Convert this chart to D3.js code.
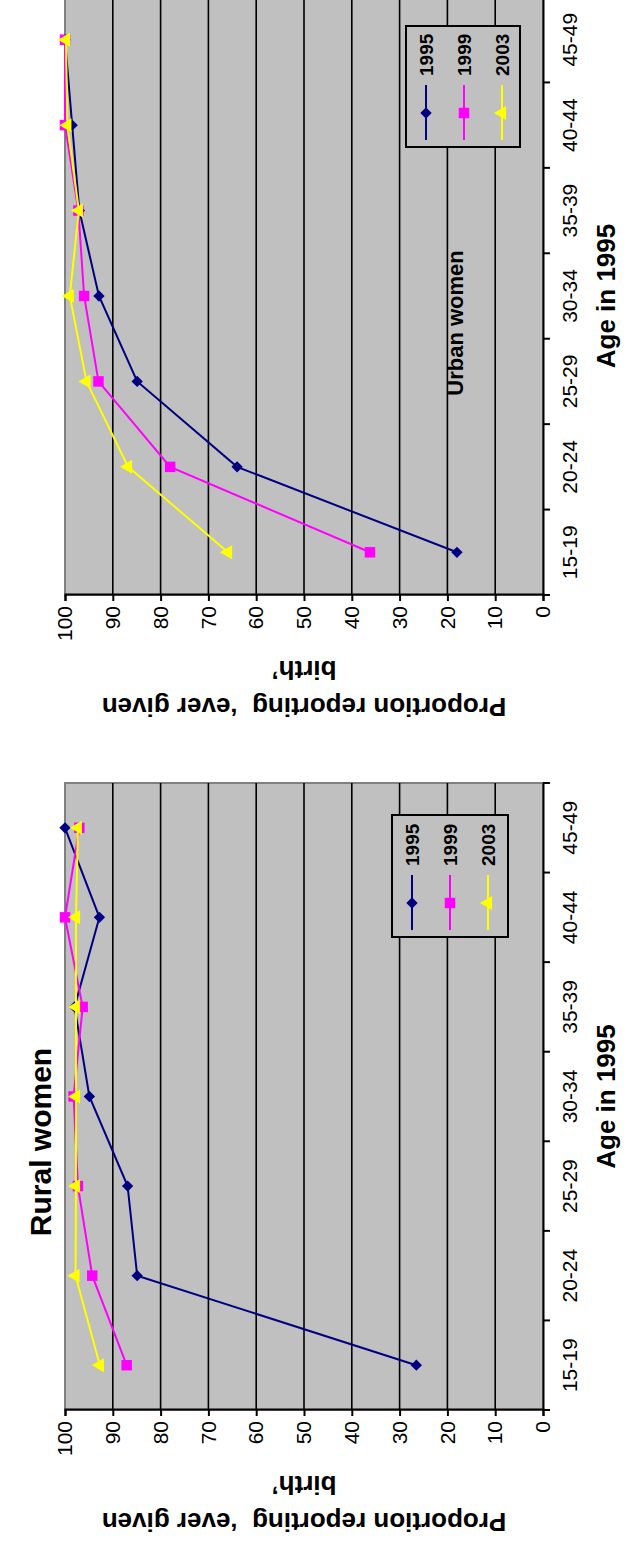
<!DOCTYPE html>
<html>
<head>
<meta charset="utf-8">
<script src="https://cdn.jsdelivr.net/npm/d3@7"></script>
<style>
  body { margin: 0; background: #fff; }
  svg { display: block; }
  text { font-family: Arial, "Liberation Sans", sans-serif; fill: #000; }
</style>
</head>
<body>
<svg id="chart" width="634" height="1543"></svg>
<script>
var categories = ["15-19", "20-24", "25-29", "30-34", "35-39", "40-44", "45-49"];
var years = ["1995", "1999", "2003"];
var yTicks = [0, 10, 20, 30, 40, 50, 60, 70, 80, 90, 100];

var rural1995 = [26.5, 84.9, 86.9, 94.9, 98.0, 92.8, 100];
var rural1999 = [87.1, 94.3, 97.3, 98.2, 96.3, 100, 97.0];
var rural2003 = [92.7, 97.8, 97.7, 97.7, 97.7, 97.7, 97.3];

var urban1995 = [18.0, 64.0, 84.9, 92.9, 97.0, 98.5, 100];
var urban1999 = [36.2, 78.0, 93.0, 96.0, 97.2, 100, 100];
var urban2003 = [65.9, 86.8, 95.5, 99.0, 97.1, 99.5, 99.8];

var colors = ["#000080", "#ff00ff", "#ffff00"];
var shapes = ["diamond", "square", "triangle"];

var svg = d3.select("#chart");

function marker(sel, shape, color) {
    if (shape == "diamond") {
        sel.append("path")
            .attr("d", d3.symbol(d3.symbolSquare, 64)())
            .attr("transform", "rotate(45)")
            .attr("fill", color);
    } else if (shape == "square") {
        sel.append("path")
            .attr("d", d3.symbol(d3.symbolSquare, 110)())
            .attr("fill", color);
    } else {
        sel.append("path")
            .attr("d", d3.symbol(d3.symbolTriangle, 85)())
            .attr("fill", color);
    }
}

// every panel is drawn as a landscape chart, then turned a quarter to the left
function drawPanel(p) {
    var w = p.bottom - p.top;
    var g = svg.append("g")
        .attr("transform", "translate(0," + p.bottom + ") rotate(-90)");

    var x = d3.scaleBand().domain(categories).range([0, w]);
    var y = d3.scaleLinear().domain([0, 100]).range([543, 65]);
    var cx = function(c) { return x(c) + x.bandwidth() / 2; };

    g.append("rect")
        .attr("x", 0).attr("y", y(100))
        .attr("width", w).attr("height", y(0) - y(100))
        .attr("fill", "#c0c0c0")
        .attr("stroke", "#808080")
        .attr("stroke-width", 2);

    g.selectAll(".grid").data(yTicks.filter(function(d) { return d > 0 && d < 100; }))
        .enter().append("line")
        .attr("x1", 0).attr("x2", w)
        .attr("y1", function(d) { return y(d); })
        .attr("y2", function(d) { return y(d); })
        .attr("stroke", "#000")
        .attr("stroke-width", 1.6);

    // value axis
    var yAxis = g.append("g")
        .call(d3.axisLeft(y).tickValues(yTicks).tickSize(6).tickPadding(5));
    yAxis.select(".domain").attr("stroke", "#000").attr("stroke-width", 2);
    yAxis.selectAll(".tick line").attr("stroke-width", 2);
    yAxis.selectAll("text").style("font-size", "21px");

    // category axis
    var xAxis = g.append("g")
        .attr("transform", "translate(0," + y(0) + ")")
        .call(d3.axisBottom(x).tickSize(0).tickPadding(19));
    xAxis.select(".domain").attr("stroke", "#000").attr("stroke-width", 2);
    xAxis.selectAll("text").style("font-size", "21px");
    xAxis.selectAll(".edge").data(categories.map(function(c) { return x(c); }).concat([w]))
        .enter().append("line")
        .attr("x1", function(d) { return d; })
        .attr("x2", function(d) { return d; })
        .attr("y1", 0).attr("y2", 7)
        .attr("stroke", "#000").attr("stroke-width", 2);

    // series
    p.series.forEach(function(vals, i) {
        var line = d3.line()
            .x(function(d, j) { return cx(categories[j]); })
            .y(function(d) { return y(d); });
        g.append("path")
            .datum(vals)
            .attr("d", line)
            .attr("fill", "none")
            .attr("stroke", colors[i])
            .attr("stroke-width", 2);
        g.selectAll(".m" + i).data(vals)
            .enter().append("g")
            .attr("transform", function(d, j) {
                return "translate(" + cx(categories[j]) + "," + y(d) + ")";
            })
            .each(function() { marker(d3.select(this), shapes[i], colors[i]); });
    });

    // legend
    var lg = g.append("g").attr("transform", "translate(" + p.legend[0] + "," + p.legend[1] + ")");
    lg.append("rect")
        .attr("width", p.legend[2]).attr("height", p.legend[3])
        .attr("fill", "#c0c0c0").attr("stroke", "#000").attr("stroke-width", 2);
    years.forEach(function(yr, i) {
        var row = lg.append("g").attr("transform", "translate(0," + (20 + i * 38) + ")");
        row.append("line")
            .attr("x1", 7).attr("x2", 62)
            .attr("stroke", colors[i]).attr("stroke-width", 2);
        var m = row.append("g").attr("transform", "translate(34,0)");
        marker(m, shapes[i], colors[i]);
        row.append("text")
            .attr("x", 71)
            .attr("dy", "0.36em")
            .style("font-size", "19px")
            .style("font-weight", "bold")
            .text(yr);
    });

    // titles
    g.append("text")
        .attr("x", p.title[0]).attr("y", p.title[1])
        .attr("dy", "0.36em")
        .attr("text-anchor", "middle")
        .style("font-size", p.title[2] + "px")
        .style("font-weight", "bold")
        .text(p.name);

    g.append("text")
        .attr("x", w / 2).attr("y", 606)
        .attr("dy", "0.36em")
        .attr("text-anchor", "middle")
        .style("font-size", "26px")
        .style("font-weight", "bold")
        .text("Age in 1995");

    var yTitle = ["Proportion reporting  \u2018ever given", "birth\u2019"];
    yTitle.forEach(function(t, i) {
        g.append("text")
            .attr("transform", "translate(" + (i == 0 ? -112 : -75) + "," + (y(0) + y(100)) / 2 + ") rotate(-90)")
            .attr("dy", "0.36em")
            .attr("text-anchor", "middle")
            .style("font-size", "26px")
            .style("font-weight", "bold")
            .style("white-space", "pre")
            .text(t);
    });
}

drawPanel({
    name: "Urban women",
    top: -3, bottom: 595,
    series: [urban1995, urban1999, urban2003],
    legend: [448, 406, 121, 114],
    title: [272, 455, 22]
});

drawPanel({
    name: "Rural women",
    top: 783, bottom: 1410,
    series: [rural1995, rural1999, rural2003],
    legend: [473, 392, 122, 116],
    title: [268, 40, 30]
});
</script>
</body>
</html>
